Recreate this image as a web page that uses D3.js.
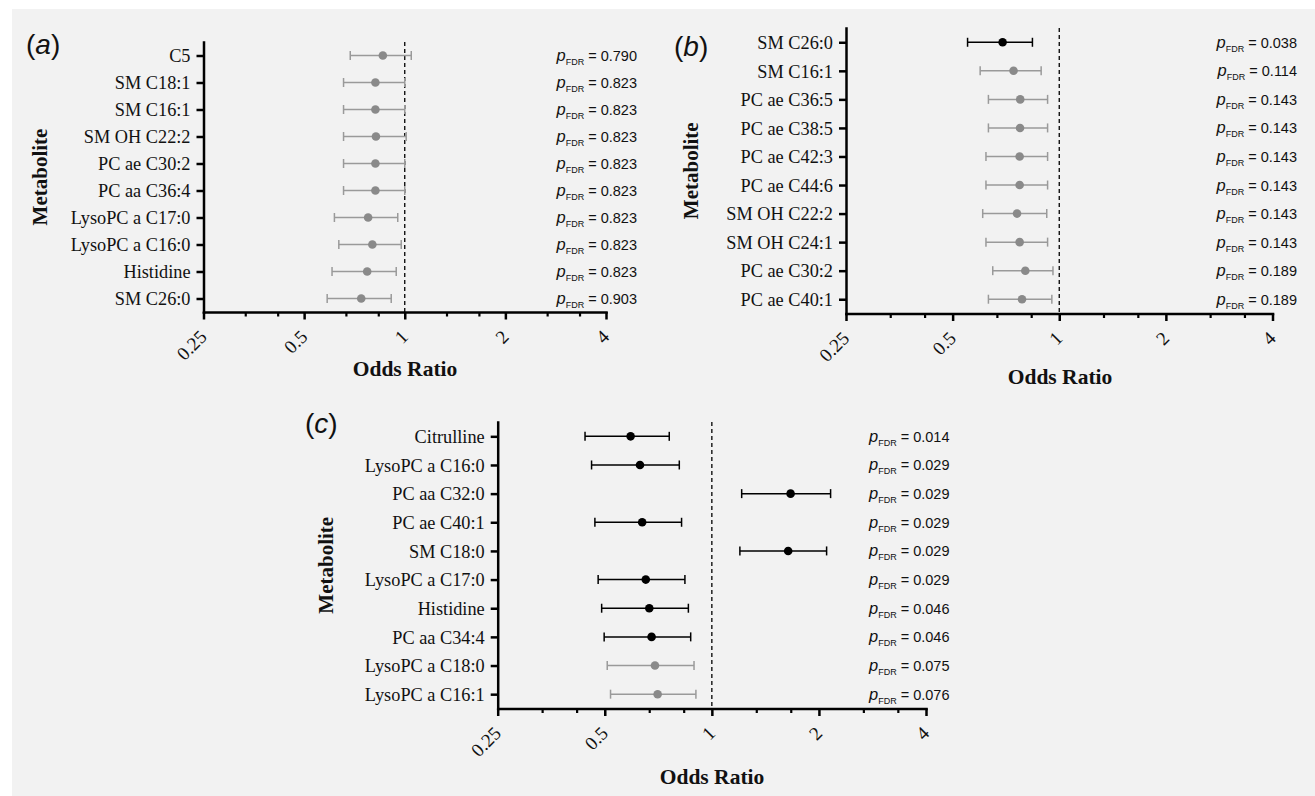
<!DOCTYPE html>
<html><head><meta charset="utf-8">
<script src="https://cdn.jsdelivr.net/npm/d3@7"></script>
<style>
body{margin:0;background:#fff;}
svg{display:block;}
</style></head><body>
<svg id="chart" width="1315" height="796"></svg>
<script>
// ---------- DATA ----------
const xTickValues = [0.25, 0.5, 1, 2, 4];
const xTickLabels = ["0.25", "0.5", "1", "2", "4"];
const xMinorTicks = [0.3333, 0.4167, 0.6667, 0.8333, 1.3333, 1.6667, 2.6667, 3.3333];

const metabolitesA = ["C5", "SM C18:1", "SM C16:1", "SM OH C22:2", "PC ae C30:2", "PC aa C36:4", "LysoPC a C17:0", "LysoPC a C16:0", "Histidine", "SM C26:0"];
const oddsA  = [0.860, 0.817, 0.817, 0.820, 0.817, 0.817, 0.777, 0.800, 0.772, 0.741];
const lowerA = [0.687, 0.656, 0.656, 0.656, 0.656, 0.656, 0.616, 0.635, 0.606, 0.586];
const upperA = [1.046, 1.000, 1.000, 1.010, 1.000, 1.000, 0.953, 0.976, 0.943, 0.911];
const pA     = ["0.790", "0.823", "0.823", "0.823", "0.823", "0.823", "0.823", "0.823", "0.823", "0.903"];

const metabolitesB = ["SM C26:0", "SM C16:1", "PC ae C36:5", "PC ae C38:5", "PC ae C42:3", "PC ae C44:6", "SM OH C22:2", "SM OH C24:1", "PC ae C30:2", "PC ae C40:1"];
const oddsB  = [0.692, 0.743, 0.776, 0.775, 0.773, 0.773, 0.760, 0.773, 0.802, 0.785];
const lowerB = [0.551, 0.598, 0.631, 0.631, 0.621, 0.621, 0.608, 0.621, 0.649, 0.631];
const upperB = [0.840, 0.889, 0.927, 0.927, 0.927, 0.927, 0.922, 0.927, 0.960, 0.953];
const pB     = ["0.038", "0.114", "0.143", "0.143", "0.143", "0.143", "0.143", "0.143", "0.189", "0.189"];

const metabolitesC = ["Citrulline", "LysoPC a C16:0", "PC aa C32:0", "PC ae C40:1", "SM C18:0", "LysoPC a C17:0", "Histidine", "PC aa C34:4", "LysoPC a C18:0", "LysoPC a C16:1"];
const oddsC  = [0.591, 0.628, 1.665, 0.637, 1.639, 0.652, 0.667, 0.677, 0.692, 0.704];
const lowerC = [0.440, 0.459, 1.213, 0.469, 1.199, 0.479, 0.490, 0.498, 0.508, 0.519];
const upperC = [0.759, 0.810, 2.157, 0.822, 2.102, 0.840, 0.859, 0.872, 0.891, 0.902];
const pC     = ["0.014", "0.029", "0.029", "0.029", "0.029", "0.029", "0.046", "0.046", "0.075", "0.076"];

// ---------- DRAW ----------
const svg = d3.select("#chart");
svg.append("rect").attr("x", 12).attr("y", 9).attr("width", 1315 - 12).attr("height", 796 - 9).attr("fill", "#f2f2f2");

const SERIF = "'Liberation Serif', 'Times New Roman', serif";
const SANS = "'Liberation Sans', Arial, sans-serif";

function drawPanel(cfg, names, odds, lower, upper, pvals) {
  const g = svg.append("g");
  const x = d3.scaleLog().base(2).domain([0.25, 4]).range([cfg.x0, cfg.x1]);
  const y = d3.scalePoint().domain(names).range([cfg.yTop, cfg.yBot]).padding(0.5);

  const rows = names.map((n, i) => ({ n, or: odds[i], lo: lower[i], hi: upper[i], p: pvals[i] }));
  const colLine = d => (+d.p < 0.05 ? "#000" : "#9a9a9a");
  const colDot = d => (+d.p < 0.05 ? "#000" : "#8a8a8a");

  // reference line at OR = 1
  g.append("line")
    .attr("x1", x(1)).attr("x2", x(1))
    .attr("y1", cfg.yTop).attr("y2", cfg.yBot)
    .attr("stroke", "#000").attr("stroke-width", 1.3).attr("stroke-dasharray", "4,3");

  const r = g.selectAll("g.row").data(rows).join("g").attr("class", "row");
  r.append("line")
    .attr("x1", d => x(d.lo)).attr("x2", d => x(d.hi))
    .attr("y1", d => y(d.n)).attr("y2", d => y(d.n))
    .attr("stroke", colLine).attr("stroke-width", 1.5);
  r.append("line")
    .attr("x1", d => x(d.lo)).attr("x2", d => x(d.lo))
    .attr("y1", d => y(d.n) - 4.5).attr("y2", d => y(d.n) + 4.5)
    .attr("stroke", colLine).attr("stroke-width", 1.5);
  r.append("line")
    .attr("x1", d => x(d.hi)).attr("x2", d => x(d.hi))
    .attr("y1", d => y(d.n) - 4.5).attr("y2", d => y(d.n) + 4.5)
    .attr("stroke", colLine).attr("stroke-width", 1.5);
  r.append("circle")
    .attr("cx", d => x(d.or)).attr("cy", d => y(d.n)).attr("r", 4.3)
    .attr("fill", colDot);

  // p-values
  const pt = r.append("text")
    .attr("x", cfg.pX).attr("y", d => y(d.n) + 5.5)
    .attr("text-anchor", "end").attr("font-family", SANS).attr("fill", "#111");
  pt.append("tspan").attr("font-style", "italic").attr("font-size", 16.5).text("p");
  pt.append("tspan").attr("font-size", 9).attr("dy", 4).text("FDR");
  pt.append("tspan").attr("font-size", 14.5).attr("dy", -4).text(d => "\u00a0= " + d.p);

  // y axis
  const ya = g.append("g").attr("transform", `translate(${cfg.x0},0)`)
    .call(d3.axisLeft(y).tickSize(7).tickPadding(6).tickSizeOuter(0));
  ya.select(".domain").attr("stroke", "#000").attr("stroke-width", 2.5).attr("stroke-linecap", "square");
  ya.selectAll(".tick line").attr("stroke", "#000").attr("stroke-width", 2.5);
  ya.selectAll(".tick text").attr("font-family", SERIF).attr("font-size", 18.3).attr("fill", "#111").attr("dy", "0.34em");

  // x axis minor
  const xm = g.append("g").attr("transform", `translate(0,${cfg.yBot})`)
    .call(d3.axisBottom(x).tickValues(xMinorTicks).tickSize(4.5).tickFormat("").tickSizeOuter(0));
  xm.select(".domain").remove();
  xm.selectAll(".tick line").attr("stroke", "#000").attr("stroke-width", 2.2);

  // x axis major
  const xa = g.append("g").attr("transform", `translate(0,${cfg.yBot})`)
    .call(d3.axisBottom(x).tickValues(xTickValues).tickFormat((d, i) => xTickLabels[i]).tickSize(7.5).tickSizeOuter(0));
  xa.select(".domain").attr("stroke", "#000").attr("stroke-width", 2.5).attr("stroke-linecap", "square");
  xa.selectAll(".tick line").attr("stroke", "#000").attr("stroke-width", 2.5);
  xa.selectAll(".tick text")
    .attr("x", 0).attr("y", 0).attr("dy", 0)
    .attr("transform", "translate(4,26) rotate(-45)")
    .attr("text-anchor", "end")
    .attr("font-family", SERIF).attr("font-size", 19).attr("fill", "#111");

  // axis titles
  g.append("text").attr("x", cfg.xTitleX).attr("y", cfg.xTitleY)
    .attr("text-anchor", "middle").attr("font-family", SERIF).attr("font-weight", "bold")
    .attr("font-size", 21.5).attr("fill", "#111").text("Odds Ratio");
  g.append("text")
    .attr("transform", `translate(${cfg.yTitleX},${(cfg.yTop + cfg.yBot) / 2}) rotate(-90)`)
    .attr("text-anchor", "middle").attr("font-family", SERIF).attr("font-weight", "bold")
    .attr("font-size", 21).attr("fill", "#111").text("Metabolite");

  // panel label
  const pl = g.append("text").attr("x", cfg.lx).attr("y", cfg.ly)
    .attr("font-family", SANS).attr("font-size", 28).attr("fill", "#111");
  pl.append("tspan").text("(");
  pl.append("tspan").attr("font-style", "italic").text(cfg.letter);
  pl.append("tspan").text(")");
}

drawPanel({ x0: 203.5, x1: 606, yTop: 42, yBot: 312, pX: 637, xTitleX: 405, xTitleY: 376, yTitleX: 46.5, lx: 26, ly: 54, letter: "a" },
  metabolitesA, oddsA, lowerA, upperA, pA);
drawPanel({ x0: 846, x1: 1272.5, yTop: 28, yBot: 313.5, pX: 1297, xTitleX: 1060, xTitleY: 384, yTitleX: 698, lx: 674, ly: 56, letter: "b" },
  metabolitesB, oddsB, lowerB, upperB, pB);
drawPanel({ x0: 497.7, x1: 926, yTop: 422, yBot: 708.5, pX: 949.5, xTitleX: 712, xTitleY: 784, yTitleX: 332.5, lx: 305, ly: 433, letter: "c" },
  metabolitesC, oddsC, lowerC, upperC, pC);
</script>
</body></html>
